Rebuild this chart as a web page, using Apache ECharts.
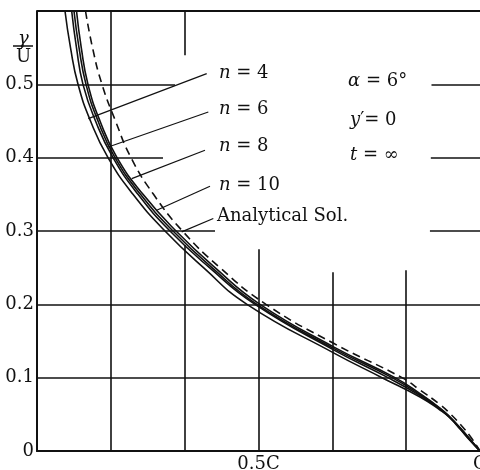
<!DOCTYPE html>
<html>
<head>
<meta charset="utf-8">
<script src="https://cdn.jsdelivr.net/npm/echarts@6.0.0/dist/echarts.min.js"></script>
<style>
  html, body { margin: 0; padding: 0; background: #fff; }
  #chart { width: 480px; height: 470px; }
</style>
</head>
<body>
<div id="chart"></div>
<script>
// curves: [x / C, gamma / U]
var n4 = [[0.0632, 0.6], [0.0756, 0.55], [0.0926, 0.5], [0.1208, 0.45], [0.1603, 0.4], [0.2167, 0.35], [0.2889, 0.3], [0.3758, 0.25], [0.4740, 0.2], [0.6704, 0.1335], [0.7788, 0.1], [0.8646, 0.0736], [0.9097, 0.0559], [0.9323, 0.0450], [0.9549, 0.0300], [0.9774, 0.0145], [1, 0]]
var n6 = [[0.0783, 0.6], [0.0891, 0.55], [0.1038, 0.5], [0.1321, 0.45], [0.1716, 0.4], [0.2280, 0.35], [0.3002, 0.3], [0.3894, 0.25], [0.4921, 0.2], [0.6704, 0.1376], [0.7923, 0.1], [0.8646, 0.0756], [0.9097, 0.0572], [0.9323, 0.0454], [0.9549, 0.0307], [0.9774, 0.0150], [1, 0]]
var n8 = [[0.0835, 0.6], [0.0948, 0.55], [0.1106, 0.5], [0.1377, 0.45], [0.1761, 0.4], [0.2336, 0.35], [0.3070, 0.3], [0.3950, 0.25], [0.4966, 0.2], [0.6704, 0.1396], [0.8014, 0.1], [0.8646, 0.0770], [0.9097, 0.0579], [0.9323, 0.0459], [0.9549, 0.0313], [0.9774, 0.0156], [1, 0]]
var n10 = [[0.0892, 0.6], [0.0999, 0.55], [0.1151, 0.5], [0.1422, 0.45], [0.1806, 0.4], [0.2393, 0.35], [0.3138, 0.3], [0.4018, 0.25], [0.5034, 0.2], [0.6704, 0.1417], [0.8081, 0.1], [0.8646, 0.0783], [0.9097, 0.0586], [0.9323, 0.0463], [0.9549, 0.0320], [0.9774, 0.0162], [1, 0]]
var analytical = [[0.1095, 0.6], [0.1253, 0.55], [0.1467, 0.5], [0.1772, 0.45], [0.2122, 0.4], [0.2630, 0.35], [0.3284, 0.3], [0.4131, 0.25], [0.5169, 0.2], [0.6704, 0.1465], [0.8239, 0.1], [0.8646, 0.0831], [0.9097, 0.0634], [0.9323, 0.0511], [0.9549, 0.0368], [0.9774, 0.0205], [1, 0]]

var seriesNames = ['n = 4', 'n = 6', 'n = 8', 'n = 10', 'Analytical Sol.']
var xLabelValues = [0.5, 1]
var xLabelTexts = ['0.5C', 'C']
var yLabelValues = [0, 0.1, 0.2, 0.3, 0.4, 0.5]
var yLabelTexts = ['0', '0.1', '0.2', '0.3', '0.4', '0.5']

var INK = '#111'
var FONT = 'DejaVu Serif'

function seg(x1, y1, x2, y2, w) {
    return [{ coord: [x1, y1], lineStyle: { width: w || 1.6 } }, { coord: [x2, y2] }]
}

// partial grid lines as in the print
var gridSegs = [
    seg(0, 0.1, 1, 0.1), seg(0, 0.2, 1, 0.2),
    seg(0, 0.3, 0.4018, 0.3), seg(0.887, 0.3, 1, 0.3),
    seg(0, 0.4, 0.2844, 0.4), seg(0.889, 0.4, 1, 0.4),
    seg(0, 0.5, 0.3115, 0.5), seg(0.8905, 0.5, 1, 0.5),
    seg(0, 0.6, 1, 0.6, 2),
    seg(1 / 6, 0, 1 / 6, 0.6),
    seg(2 / 6, 0, 2 / 6, 0.281), seg(2 / 6, 0.5395, 2 / 6, 0.6),
    seg(3 / 6, 0, 3 / 6, 0.275),
    seg(4 / 6, 0, 4 / 6, 0.2439),
    seg(5 / 6, 0, 5 / 6, 0.2466)
]

// leader lines from the labels to the curves
var leaderSegs = [
    seg(0.3831, 0.5146, 0.1158, 0.4533, 1.2),
    seg(0.3867, 0.4623, 0.1609, 0.4146, 1.2),
    seg(0.3792, 0.4101, 0.2138, 0.3715, 1.2),
    seg(0.3905, 0.3610, 0.2702, 0.3283, 1.2),
    seg(0.3980, 0.3170, 0.3266, 0.2988, 1.2)
]

function findLabel(values, texts, v) {
    for (var i = 0; i < values.length; i++) {
        if (Math.abs(values[i] - v) < 1e-6) return texts[i]
    }
    return ''
}

function curve(name, data, dashed) {
    return {
        name: name,
        type: 'line',
        data: data,
        smooth: 0.5,
        symbol: 'none',
        lineStyle: { color: INK, width: 1.6, type: dashed ? [8, 5] : 'solid' },
        z: 5
    }
}

function textEl(x, y, txt) {
    return {
        type: 'text', left: x, top: y - 11,
        style: {
            text: txt, fill: INK, fontFamily: FONT, fontSize: 18,
            rich: {
                i: { fontStyle: 'italic', fontFamily: FONT, fontSize: 18, fill: INK }
            }
        }
    }
}

var chart = echarts.init(document.getElementById('chart'))
chart.setOption({
    animation: false,
    backgroundColor: '#fff',
    grid: { left: 37, right: 0, top: 11, bottom: 19, containLabel: false, outerBoundsMode: 'none' },
    xAxis: {
        type: 'value', min: 0, max: 1, interval: 1 / 6,
        axisLine: { show: true, lineStyle: { color: INK, width: 2 } },
        axisTick: { show: false },
        splitLine: { show: false },
        axisLabel: {
            color: INK, fontFamily: FONT, fontSize: 18, margin: 4,
            showMinLabel: true, showMaxLabel: true, hideOverlap: false,
            formatter: function (v) { return findLabel(xLabelValues, xLabelTexts, v) }
        }
    },
    yAxis: {
        type: 'value', min: 0, max: 0.6, interval: 0.1,
        axisLine: { show: true, lineStyle: { color: INK, width: 2 } },
        axisTick: { show: false },
        splitLine: { show: false },
        axisLabel: {
            color: INK, fontFamily: FONT, fontSize: 18, margin: 3,
            showMaxLabel: true, hideOverlap: false,
            formatter: function (v) { return findLabel(yLabelValues, yLabelTexts, v) }
        }
    },
    series: [
        curve(seriesNames[0], n4),
        curve(seriesNames[1], n6),
        curve(seriesNames[2], n8),
        curve(seriesNames[3], n10),
        curve(seriesNames[4], analytical, true),
        {
            name: 'frame',
            type: 'line',
            data: [[0, 0]],
            symbol: 'none',
            lineStyle: { opacity: 0 },
            z: 3,
            markLine: {
                silent: true,
                symbol: ['none', 'none'],
                label: { show: false },
                animation: false,
                lineStyle: { color: INK, type: 'solid', width: 1.6 },
                emphasis: { disabled: true },
                data: gridSegs.concat(leaderSegs)
            }
        }
    ],
    graphic: [
        textEl(219, 75, '{i|n} = 4'),
        textEl(219, 111, '{i|n} = 6'),
        textEl(219, 148, '{i|n} = 8'),
        textEl(219, 187, '{i|n} = 10'),
        textEl(217, 218, 'Analytical Sol.'),
        textEl(348, 83, '{i|α} = 6°'),
        textEl(350, 122, '{i|y}′= 0'),
        textEl(350, 157, '{i|t} = ∞'),
        {
            type: 'text', left: 18, top: 30,
            style: { text: 'γ', fill: INK, fontFamily: FONT, fontSize: 18, fontStyle: 'italic' }
        },
        {
            type: 'line',
            shape: { x1: 13, y1: 46, x2: 33, y2: 46 },
            style: { stroke: INK, lineWidth: 1.5 }
        },
        {
            type: 'text', left: 16, top: 48,
            style: { text: 'U', fill: INK, fontFamily: FONT, fontSize: 18 }
        }
    ]
})
</script>
</body>
</html>
